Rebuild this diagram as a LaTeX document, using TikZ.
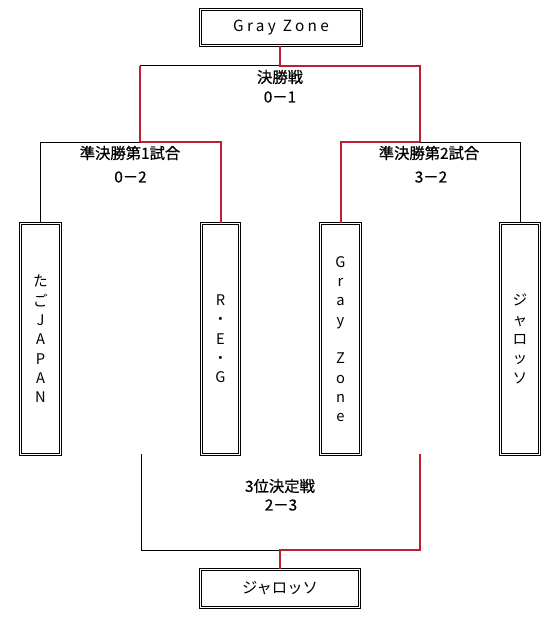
\documentclass[tikz,border=0pt]{standalone}
\usepackage{fontspec}
\setmainfont{Noto Sans CJK JP}
\newfontfamily\spaced[LetterSpace=22]{Noto Sans CJK JP}
\newfontfamily\lblfont[FakeBold=0.8]{Noto Sans CJK JP}
\definecolor{win}{RGB}{190,30,45}
\begin{document}
\begin{tikzpicture}[x=0.75pt,y=-0.75pt,
  box/.style={draw, double, line width=0.6pt, double distance=1.2pt, inner sep=0pt},
  hbox/.style={box, font=\fontsize{11.5}{14}\selectfont},
  vbox/.style={box, align=center, font=\fontsize{11}{14.5}\selectfont, minimum height=173.1pt},
  lbl/.style={font=\lblfont\fontsize{11.5}{14}\selectfont, inner sep=0pt},
  lose/.style={draw=black, line width=0.75pt},
  winl/.style={draw=win, line width=1.5pt, line join=miter}]
\useasboundingbox (0,0) rectangle (551,617);
% boxes
\node[hbox, minimum width=120.6pt, minimum height=26.85pt] (top) at (281,27.5) {{\spaced Gray\ Zone}};
\node[vbox, minimum width=29.85pt] (t1) at (40.5,339) {た\\ご\\J\\A\\P\\A\\N};
\node[vbox, minimum width=28.35pt] (t2) at (220.5,339) {R\\・\\E\\・\\G};
\node[vbox, minimum width=29.85pt] (t3) at (340.5,339) {G\\r\\a\\y\\~\\Z\\o\\n\\e};
\node[vbox, minimum width=29.1pt] (t4) at (520,339) {ジ\\ャ\\ロ\\ッ\\ソ};
\node[hbox, minimum width=119.1pt, minimum height=28.35pt] (bot) at (280,588.5) {ジャロッソ};
% labels
\node[lbl] (fin) at (280,77) {決勝戦};
\node[lbl] (finS) at (280,97) {0－1};
\node[lbl] (sf1) at (130,153) {準決勝第1試合};
\node[lbl] (sf1S) at (130.5,177) {0－2};
\node[lbl] (sf2) at (429,153) {準決勝第2試合};
\node[lbl] (sf2S) at (431,177) {3－2};
\node[lbl] (thr) at (280,486) {3位決定戦};
\node[lbl] (thrS) at (281,505) {2－3};
% junction coordinates
\coordinate (f) at (280,66);
\coordinate (fl) at (140,66);
\coordinate (fr) at (420,66);
\coordinate (s1) at (140,142);
\coordinate (s2) at (420,142);
\coordinate (b) at (280,550);
\coordinate (bl) at (141,550);
\coordinate (br) at (420,550);
\coordinate (blt) at (141,454);
\coordinate (brt) at (420,454);
% final
\draw[lose] (fl) -- (f);
\draw[winl] (f |- top.south) -- (f) -- (fr) -- (s2);
\draw[winl] (fl) -- (s1);
% semi-finals
\draw[lose] (t1.north) |- (s1);
\draw[winl] (s1) -| (t2.north);
\draw[winl] (s2) -| (t3.north);
\draw[lose] (s2) -| (t4.north);
% third place
\draw[lose] (blt) -- (bl) -- (b);
\draw[winl] (brt) -- (br) -- (b) -- (b |- bot.north);
\end{tikzpicture}
\end{document}
